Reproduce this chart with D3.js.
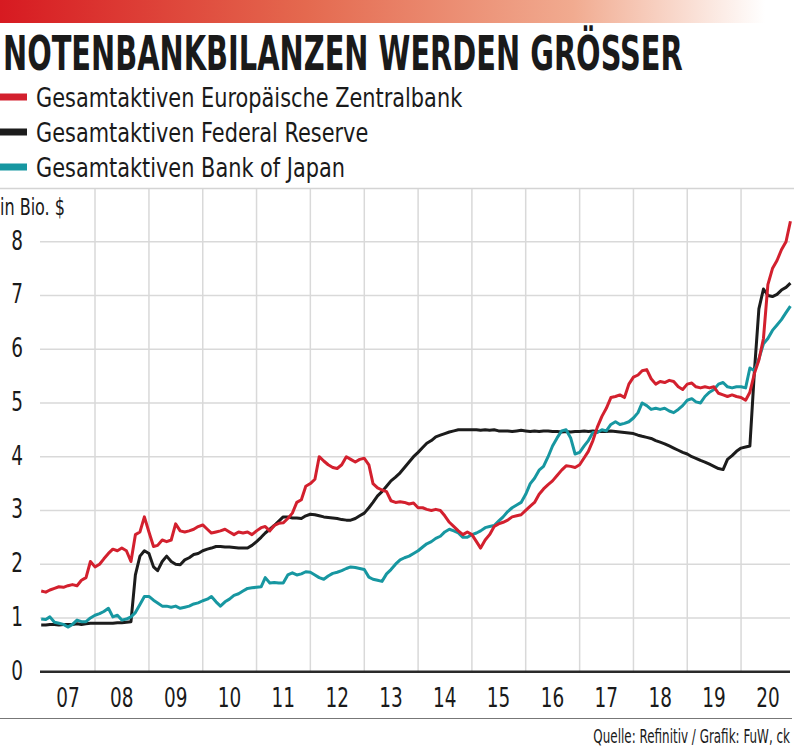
<!DOCTYPE html>
<html>
<head>
<meta charset="utf-8">
<script src="https://cdn.jsdelivr.net/npm/d3@7"></script>
<style>
  body { margin: 0; background: #fff; }
  svg { display: block; }
</style>
</head>
<body>
<div id="chart"></div>
<script>
// monthly values, Jan 2007 .. Dec 2020, in Bio. $
const ecb = [
  1.50,1.48,1.52,1.55,1.58,1.57,1.60,1.62,1.60,1.70,1.75,2.05, // 07
  1.95,2.00,2.10,2.20,2.28,2.25,2.30,2.25,2.05,2.55,2.60,2.88, // 08
  2.60,2.33,2.35,2.45,2.42,2.45,2.75,2.62,2.60,2.62,2.65,2.70, // 09
  2.73,2.65,2.58,2.60,2.62,2.65,2.60,2.55,2.60,2.58,2.60,2.55, // 10
  2.62,2.68,2.70,2.62,2.72,2.76,2.77,2.85,2.95,3.15,3.20,3.45, // 11
  3.50,3.58,4.00,3.92,3.85,3.80,3.78,3.85,4.00,3.95,3.90,3.95, // 12
  3.97,3.85,3.50,3.42,3.38,3.35,3.18,3.15,3.16,3.15,3.12,3.14, // 13
  3.05,3.05,3.02,3.00,3.02,3.00,2.90,2.78,2.70,2.62,2.55,2.60, // 14
  2.55,2.42,2.30,2.45,2.55,2.70,2.75,2.78,2.82,2.88,2.90,2.92, // 15
  3.00,3.08,3.15,3.30,3.40,3.48,3.55,3.65,3.75,3.83,3.82,3.80, // 16
  3.85,3.98,4.10,4.30,4.55,4.75,4.90,5.10,5.12,5.15,5.10,5.35, // 17
  5.48,5.52,5.60,5.62,5.45,5.35,5.40,5.38,5.42,5.40,5.30,5.25, // 18
  5.35,5.37,5.30,5.28,5.30,5.28,5.30,5.18,5.15,5.12,5.15,5.12, // 19
  5.10,5.05,5.20,5.55,5.80,6.20,7.20,7.50,7.65,7.85,8.00,8.38  // 20
];
const fed = [
  0.87,0.87,0.88,0.88,0.87,0.88,0.88,0.88,0.89,0.88,0.89,0.90,
  0.90,0.90,0.90,0.90,0.90,0.91,0.91,0.92,0.93,1.80,2.15,2.25,
  2.20,1.95,1.88,2.05,2.15,2.05,2.00,1.99,2.08,2.12,2.18,2.20,
  2.25,2.28,2.30,2.33,2.33,2.32,2.32,2.31,2.30,2.30,2.30,2.35,
  2.42,2.50,2.58,2.65,2.72,2.80,2.88,2.88,2.86,2.86,2.85,2.90,
  2.93,2.92,2.90,2.88,2.87,2.86,2.85,2.83,2.82,2.82,2.85,2.90,
  2.95,3.05,3.15,3.27,3.35,3.45,3.55,3.62,3.70,3.80,3.90,4.00,
  4.08,4.17,4.25,4.30,4.37,4.40,4.43,4.46,4.48,4.50,4.50,4.50,
  4.50,4.50,4.49,4.50,4.49,4.50,4.48,4.48,4.48,4.47,4.48,4.49,
  4.48,4.47,4.48,4.47,4.48,4.48,4.47,4.47,4.46,4.47,4.46,4.47,
  4.47,4.48,4.47,4.48,4.47,4.47,4.47,4.48,4.47,4.46,4.45,4.44,
  4.43,4.40,4.38,4.36,4.34,4.30,4.27,4.24,4.20,4.16,4.12,4.08,
  4.05,4.00,3.97,3.93,3.90,3.86,3.82,3.78,3.76,3.95,4.02,4.10,
  4.16,4.18,4.20,5.60,6.75,7.12,7.00,6.98,7.02,7.10,7.15,7.23
];
const boj = [
  0.98,0.97,1.02,0.92,0.90,0.88,0.83,0.88,0.96,0.93,0.93,1.00,
  1.05,1.08,1.12,1.18,1.02,1.05,0.96,0.98,1.02,1.10,1.25,1.40,
  1.40,1.33,1.28,1.22,1.22,1.20,1.22,1.18,1.20,1.22,1.26,1.28,
  1.32,1.35,1.40,1.30,1.22,1.30,1.35,1.42,1.45,1.50,1.55,1.56,
  1.57,1.58,1.75,1.65,1.66,1.65,1.65,1.80,1.84,1.80,1.82,1.86,
  1.85,1.80,1.75,1.72,1.78,1.83,1.85,1.88,1.92,1.95,1.94,1.92,
  1.90,1.76,1.72,1.70,1.68,1.82,1.90,2.00,2.08,2.12,2.15,2.20,
  2.25,2.32,2.38,2.42,2.48,2.52,2.60,2.65,2.62,2.58,2.50,2.50,
  2.55,2.58,2.62,2.68,2.70,2.72,2.80,2.88,2.98,3.05,3.10,3.15,
  3.30,3.50,3.60,3.75,3.82,4.00,4.20,4.35,4.48,4.50,4.35,4.05,
  4.08,4.20,4.30,4.45,4.45,4.50,4.48,4.60,4.65,4.60,4.62,4.65,
  4.72,4.82,5.00,4.95,4.88,4.90,4.88,4.90,4.85,4.82,4.88,4.95,
  5.05,5.08,5.02,5.00,5.12,5.20,5.25,5.35,5.38,5.30,5.28,5.30,
  5.30,5.28,5.65,5.60,5.82,6.10,6.20,6.35,6.45,6.55,6.68,6.80
];

const seriesNames = [
  "Gesamtaktiven Europäische Zentralbank",
  "Gesamtaktiven Federal Reserve",
  "Gesamtaktiven Bank of Japan"
];
const seriesColors = ["#d3202e", "#1c1c1c", "#1797a1"];
const yearLabels = ["07","08","09","10","11","12","13","14","15","16","17","18","19","20"];
const yTicks = [0, 1, 2, 3, 4, 5, 6, 7, 8];

const W = 794, H = 752;
const FONT = "'Liberation Sans Narrow', 'DejaVu Sans Condensed', sans-serif";

const svg = d3.select("#chart").append("svg")
  .attr("width", W)
  .attr("height", H)
  .style("font-family", FONT);

// helper: squeeze / stretch a text horizontally to a wanted width
function fitText(sel, x, y, width) {
  const bw = sel.node().getBBox().width;
  const s = width ? width / bw : 1;
  sel.attr("transform", `translate(${x},${y}) scale(${s},1)`);
  return s;
}

// top gradient bar
const grad = svg.append("defs").append("linearGradient")
  .attr("id", "topbar")
  .attr("x1", "0%").attr("x2", "100%");
grad.append("stop").attr("offset", "0%").attr("stop-color", "#d71a21");
grad.append("stop").attr("offset", "40%").attr("stop-color", "#e4694f");
grad.append("stop").attr("offset", "75%").attr("stop-color", "#f1ab90");
grad.append("stop").attr("offset", "100%").attr("stop-color", "#ffffff");
svg.append("rect")
  .attr("x", 0).attr("y", 0)
  .attr("width", 765).attr("height", 23)
  .attr("fill", "url(#topbar)");

// title
const title = svg.append("text")
  .text("NOTENBANKBILANZEN WERDEN GRÖSSER")
  .attr("font-size", 48)
  .attr("font-weight", "bold")
  .attr("fill", "#1a1a1a");
fitText(title, 3, 70, 680);

// legend
const legend = svg.append("g");
let legendScale = 1;
seriesNames.forEach((name, i) => {
  const y = 97 + i * 35;
  legend.append("rect")
    .attr("x", 0).attr("y", y - 3.5)
    .attr("width", 27).attr("height", 7)
    .attr("fill", seriesColors[i]);
  const t = legend.append("text")
    .text(name)
    .attr("font-size", 26)
    .attr("fill", "#1a1a1a");
  if (i === 0) legendScale = fitText(t, 36, y + 10, 427);
  else t.attr("transform", `translate(36,${y + 10}) scale(${legendScale},1)`);
});

// separator under legend
svg.append("line")
  .attr("x1", 0).attr("x2", W)
  .attr("y1", 188.5).attr("y2", 188.5)
  .attr("stroke", "#d4d4d4").attr("stroke-width", 1.5);

const unit = svg.append("text")
  .text("in Bio. $")
  .attr("font-size", 23)
  .attr("fill", "#1a1a1a");
fitText(unit, 0, 215, 65);

// scales
const x = d3.scaleTime()
  .domain([new Date(2007, 0, 1), new Date(2021, 0, 1)])
  .range([41.2, 795]);
const y = d3.scaleLinear()
  .domain([0, 8])
  .range([671.7, 241.7]);

const dates = d3.timeMonth.range(new Date(2007, 0, 1), new Date(2021, 0, 1));
const left = 40, right = 790;
const tickSqueeze = 0.76;

// grid
const grid = svg.append("g").attr("stroke", "#d9d9d9").attr("stroke-width", 1.5);
grid.selectAll(".h").data(yTicks.filter(d => d > 0)).enter().append("line")
  .attr("x1", left).attr("x2", right)
  .attr("y1", d => y(d)).attr("y2", d => y(d));
const yearStarts = d3.timeYear.range(new Date(2008, 0, 1), new Date(2021, 0, 1));
grid.selectAll(".v").data(yearStarts).enter().append("line")
  .attr("x1", d => x(d)).attr("x2", d => x(d))
  .attr("y1", 189).attr("y2", y(0));

// y tick labels
svg.append("g").selectAll("text").data(yTicks).enter().append("text")
  .attr("transform", d => `translate(17,${y(d) + 8}) scale(${tickSqueeze},1)`)
  .attr("text-anchor", "middle")
  .attr("font-size", 27)
  .attr("fill", "#1a1a1a")
  .text(d => d);

// x tick labels (centred in each year)
svg.append("g").selectAll("text").data(yearLabels).enter().append("text")
  .attr("transform", (d, i) => `translate(${x(new Date(2007 + i, 6, 1))},707) scale(${tickSqueeze},1)`)
  .attr("text-anchor", "middle")
  .attr("font-size", 27)
  .attr("fill", "#1a1a1a")
  .text(d => d);

// lines
const line = d3.line()
  .x((d, i) => x(dates[i]))
  .y(d => y(d));
[fed, boj, ecb].forEach(s => {
  const idx = s === ecb ? 0 : s === fed ? 1 : 2;
  svg.append("path")
    .datum(s)
    .attr("d", line)
    .attr("fill", "none")
    .attr("stroke", seriesColors[idx])
    .attr("stroke-width", 3)
    .attr("stroke-linejoin", "round");
});

// zero axis
svg.append("line")
  .attr("x1", left).attr("x2", right)
  .attr("y1", y(0)).attr("y2", y(0))
  .attr("stroke", "#2a2a2a").attr("stroke-width", 2.5);

// footer
svg.append("line")
  .attr("x1", 0).attr("x2", 792)
  .attr("y1", 718.5).attr("y2", 718.5)
  .attr("stroke", "#777").attr("stroke-width", 1.2);
const src = svg.append("text")
  .text("Quelle: Refinitiv / Grafik: FuW, ck")
  .attr("text-anchor", "end")
  .attr("font-size", 19)
  .attr("fill", "#1a1a1a");
fitText(src, 790, 743, 197);
</script>
</body>
</html>
